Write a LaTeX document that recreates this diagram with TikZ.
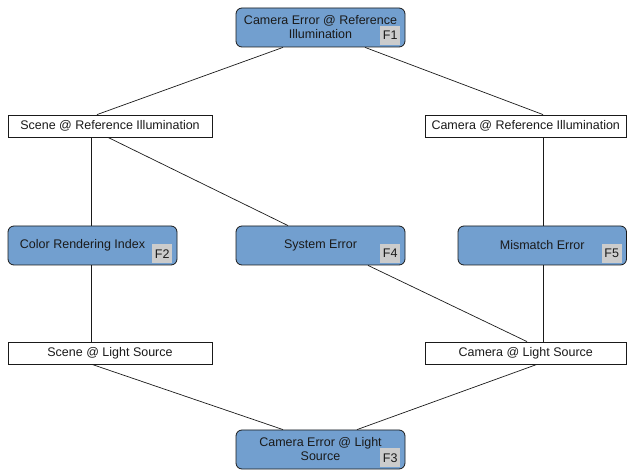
\documentclass[tikz,border=0pt]{standalone}
\usepackage{fontspec}
\setmainfont{Liberation Sans}
\usetikzlibrary{calc}
\definecolor{fblue}{HTML}{729FCF}
\definecolor{badgegray}{HTML}{CCCCCC}
\definecolor{ink}{HTML}{1A1A1A}
\tikzset{
  every node/.style={font=\fontsize{12.5}{14}\selectfont, text=ink},
  fbox/.style={draw=ink, line width=0.8pt, fill=fblue, rounded corners=6pt,
    minimum width=169pt, minimum height=39pt, inner sep=0pt, align=center},
  sbox/.style={draw=ink, line width=0.8pt, fill=white,
    minimum height=22pt, inner sep=0pt, align=center},
  badge/.style={fill=badgegray, minimum width=20pt, minimum height=19pt, inner sep=0pt,
    anchor=south east},
  conn/.style={draw=ink, line width=0.7pt}
}
\begin{document}
\begin{tikzpicture}[x=1pt,y=-1pt]
\useasboundingbox (0,0) rectangle (627,470);
% factor boxes
\node[fbox] (f1) at (320.5,27.5) {Camera Error @ Reference\\Illumination};
\node[fbox] (f2) at (92.5,245.5) {};
\node (f2t) at ([xshift=-10pt,yshift=0.5pt]f2.center) {Color Rendering Index};
\node[fbox] (f4) at (320.5,245.5) {System Error};
\node[fbox, minimum width=168.5pt] (f5) at (542.25,245.5) {Mismatch Error};
\node[fbox] (f3) at (320.5,449.5) {Camera Error @ Light\\Source};
% badges
\node[badge] (b1) at ([xshift=-5pt,yshift=2pt]f1.south east) {F1};
\node[badge] (b2) at ([xshift=-5pt,yshift=2pt]f2.south east) {F2};
\node[badge] (b4) at ([xshift=-5pt,yshift=2pt]f4.south east) {F4};
\node[badge] (b5) at ([xshift=-5pt,yshift=2pt]f5.south east) {F5};
\node[badge] (b3) at ([xshift=-5pt,yshift=2pt]f3.south east) {F3};
% plain boxes
\node[sbox, minimum width=204pt] (sref) at (110,126) {Scene @ Reference Illumination};
\node[sbox, minimum width=201.5pt] (cref) at (525.75,126) {Camera @ Reference Illumination};
\node[sbox, minimum width=204pt] (slight) at (110,353) {Scene @ Light Source};
\node[sbox, minimum width=201.5pt] (clight) at (525.75,353) {Camera @ Light Source};
% connectors
\draw[conn] ([xshift=-37.5pt]f1.south) -- ([xshift=-13pt]sref.north);
\draw[conn] ([xshift=44.5pt]f1.south) -- ([xshift=17.25pt]cref.north);
\draw[conn] ([xshift=-19pt]sref.south) -- ([xshift=-1.5pt]f2.north);
\draw[conn] ([xshift=-2pt]sref.south) -- ([xshift=-32.5pt]f4.north);
\draw[conn] ([xshift=17.25pt]cref.south) -- ([xshift=0.75pt]f5.north);
\draw[conn] ([xshift=-1.5pt]f2.south) -- ([xshift=-19pt]slight.north);
\draw[conn] ([xshift=47.5pt]f4.south) -- ([xshift=1.25pt]clight.north);
\draw[conn] ([xshift=0.75pt]f5.south) -- ([xshift=17.25pt]clight.north);
\draw[conn] ([xshift=-18pt]slight.south) -- ([xshift=-37.5pt]f3.north);
\draw[conn] ([xshift=11.25pt]clight.south) -- ([xshift=36.5pt]f3.north);
\end{tikzpicture}
\end{document}
